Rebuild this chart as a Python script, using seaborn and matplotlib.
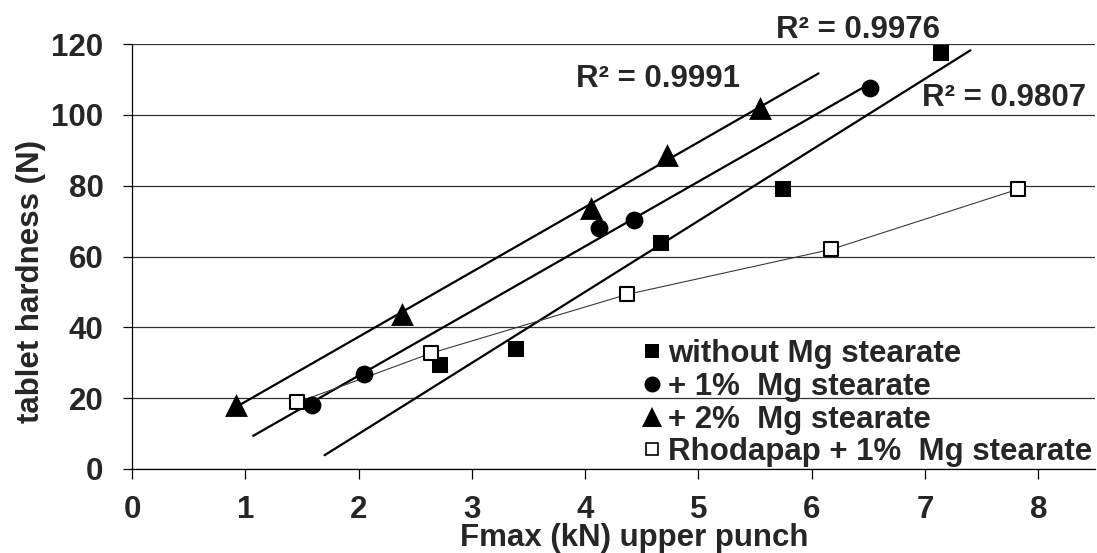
import numpy as np
import pandas as pd
import matplotlib
matplotlib.use("Agg")
import matplotlib.pyplot as plt
from matplotlib.lines import Line2D
import seaborn as sns

# Measured compaction data: upper punch force (kN) vs. tablet hardness (N)
fmax_plain = [2.72, 3.39, 4.67, 5.75, 7.14]
hard_plain = [29.4, 33.8, 63.9, 79.0, 117.6]

fmax_mg1 = [1.59, 2.05, 4.12, 4.43, 6.51]
hard_mg1 = [18.1, 26.7, 68.1, 70.3, 107.5]

fmax_mg2 = [0.92, 2.38, 4.05, 4.72, 5.54]
hard_mg2 = [18.0, 43.8, 73.6, 88.6, 102.0]

fmax_rhod = [1.46, 2.64, 4.37, 6.17, 7.82]
hard_rhod = [18.8, 32.7, 49.3, 62.0, 79.0]

labels = ["without Mg stearate", "+ 1%  Mg stearate", "+ 2%  Mg stearate",
          "Rhodapap + 1%  Mg stearate"]
r2_texts = ["R² = 0.9991", "R² = 0.9976", "R² = 0.9807"]

# x-range over which each linear trend line is drawn
trend_span_plain = [1.7, 7.4]
trend_span_mg1 = [1.07, 6.51]
trend_span_mg2 = [0.93, 6.06]

sns.set_theme(style="white")
plt.rcParams["font.family"] = ["Liberation Sans", "DejaVu Sans"]
plt.rcParams["font.weight"] = "bold"
FS = 22.5

fig = plt.figure(figsize=(10.97, 5.53), dpi=100)
ax = fig.add_axes([0.1203, 0.1519, 0.8779, 0.7685])

# linear trend lines
for xs, ys, span in [(fmax_plain, hard_plain, trend_span_plain),
                     (fmax_mg1, hard_mg1, trend_span_mg1),
                     (fmax_mg2, hard_mg2, trend_span_mg2)]:
    slope, icpt = np.polyfit(xs, ys, 1)
    xl = np.array(span)
    line_df = pd.DataFrame({"x": xl, "y": slope * xl + icpt})
    sns.lineplot(data=line_df, x="x", y="y", ax=ax, color="black",
                 linewidth=1.6, zorder=3)

# thin connecting line through the Rhodapap points
rhod_df = pd.DataFrame({"x": fmax_rhod, "y": hard_rhod})
sns.lineplot(data=rhod_df, x="x", y="y", ax=ax, color="#3a3a3a",
             linewidth=0.8, zorder=3, sort=False)

# markers
sns.scatterplot(x=fmax_plain, y=hard_plain, ax=ax, marker="s", s=117,
                color="black", linewidth=0, zorder=4)
sns.scatterplot(x=fmax_mg1, y=hard_mg1, ax=ax, marker="o", s=165,
                color="black", linewidth=0, zorder=4)
sns.scatterplot(x=fmax_mg2, y=hard_mg2, ax=ax, marker="^", s=270,
                color="black", linewidth=0, zorder=4)
sns.scatterplot(x=fmax_rhod, y=hard_rhod, ax=ax, marker="s", s=115,
                facecolor="white", edgecolor="black", linewidth=1.5, zorder=5)

ax.set_xlim(0, 8.5)
ax.set_ylim(0, 120)
ax.set_xticks(range(0, 9))
ax.set_yticks(range(0, 121, 20))

ax.yaxis.grid(True, color="#303030", linewidth=0.9)
ax.xaxis.grid(False)
for side in ["top", "right"]:
    ax.spines[side].set_visible(False)
for side in ["left", "bottom"]:
    ax.spines[side].set_color("black")
    ax.spines[side].set_linewidth(0.9)

ax.tick_params(axis="y", which="major", left=True, length=6.5, width=0.9,
               color="black", pad=14, labelsize=FS)
ax.tick_params(axis="x", which="major", bottom=True, length=7.5, width=0.9,
               color="black", pad=11, labelsize=FS)
for lab in ax.get_xticklabels() + ax.get_yticklabels():
    lab.set_fontweight("bold")

ax.set_xlabel("Fmax (kN) upper punch", fontsize=FS, fontweight="bold")
ax.set_ylabel("tablet hardness (N)", fontsize=FS, fontweight="bold")
ax.xaxis.set_label_coords(0.522, -0.126)
ax.yaxis.set_label_coords(-0.105, 0.442)
ax.yaxis.label.set_va("center")

# R² annotations
ax.text(3.92, 110.1, r2_texts[0], fontsize=FS, fontweight="bold",
        ha="left", va="center")
ax.text(5.68, 123.9, r2_texts[1], fontsize=FS, fontweight="bold",
        ha="left", va="center", clip_on=False)
ax.text(6.97, 104.7, r2_texts[2], fontsize=FS, fontweight="bold",
        ha="left", va="center")

handles = [
    Line2D([], [], linestyle="none", marker="s", markersize=10,
           markerfacecolor="black", markeredgewidth=0),
    Line2D([], [], linestyle="none", marker="o", markersize=11.5,
           markerfacecolor="black", markeredgewidth=0),
    Line2D([], [], linestyle="none", marker="^", markersize=14.5,
           markerfacecolor="black", markeredgewidth=0),
    Line2D([], [], linestyle="none", marker="s", markersize=9,
           markerfacecolor="white", markeredgecolor="black",
           markeredgewidth=1.2),
]
leg = ax.legend(handles, labels, loc="upper left",
                bbox_to_anchor=(0.5285, 0.306), frameon=False,
                borderpad=0, borderaxespad=0, handlelength=0.68,
                handletextpad=0.2, labelspacing=0.09,
                prop={"size": FS, "weight": "bold"})

fig.savefig("out.png", dpi=100)
